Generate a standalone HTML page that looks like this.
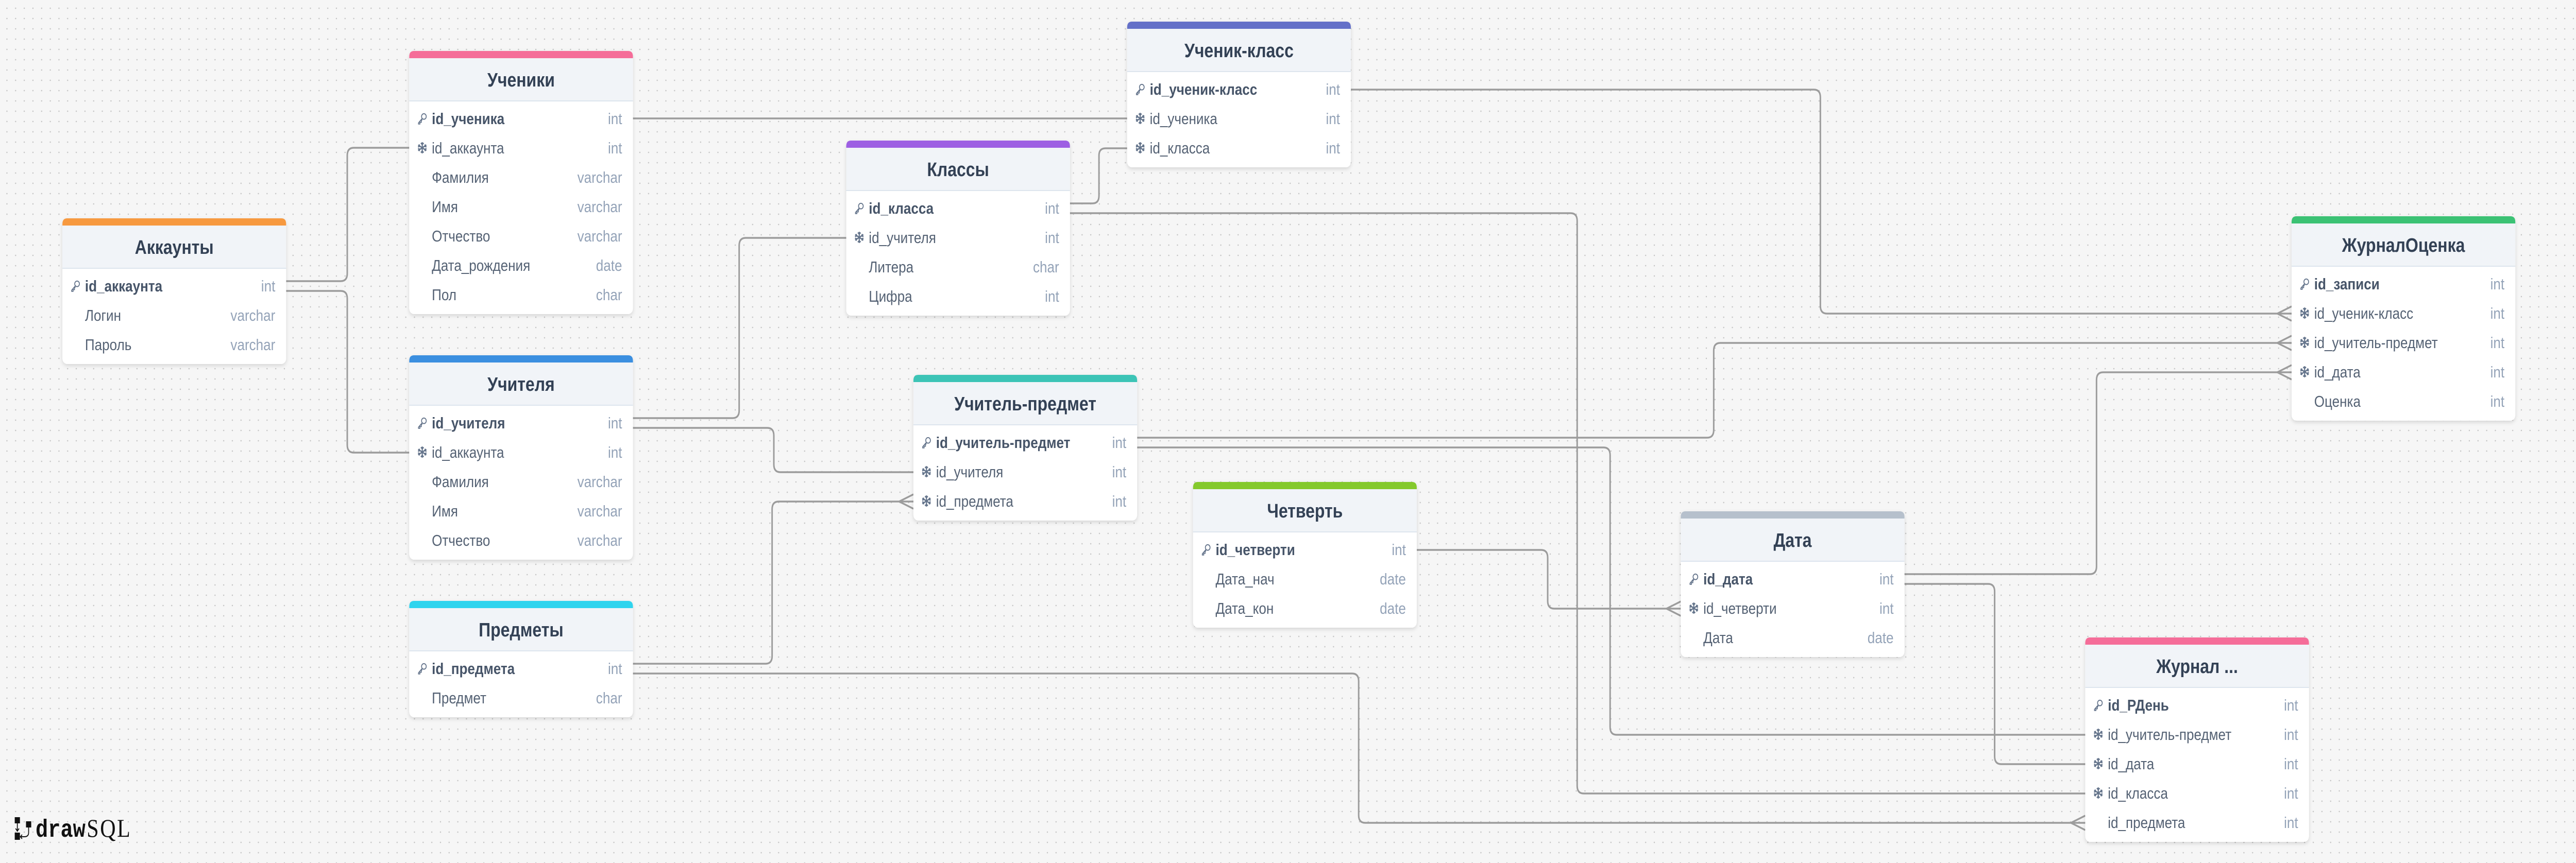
<!DOCTYPE html>
<html><head><meta charset="utf-8">
<meta name="viewport" content="width=5942, height=1676">
<style>
html,body{margin:0;padding:0;width:100%;height:100%;overflow:hidden;background:#f6f6f6}
svg.main{position:fixed;left:0;top:0;width:100vw;height:100vh;display:block}
.tt{font-family:"Liberation Sans","Noto Sans CJK SC",sans-serif;font-weight:bold;font-size:38px;fill:#334155;text-anchor:middle}
.n{font-family:"Liberation Sans","Noto Sans CJK SC",sans-serif;font-size:31px;fill:#556274}
.pk{font-weight:bold;fill:#475569}
.ty{font-family:"Liberation Sans","Noto Sans CJK SC",sans-serif;font-size:31px;fill:#94a3b8;text-anchor:end}
</style></head><body>
<svg class="main" viewBox="0 0 5942 1676" preserveAspectRatio="none" xmlns="http://www.w3.org/2000/svg">
<defs>
<pattern id="dots" x="6" y="6" width="20" height="20" patternUnits="userSpaceOnUse"><circle cx="10" cy="10" r="1.4" fill="#c4c4c4"/></pattern>
<filter id="sh" x="-5%" y="-5%" width="110%" height="115%"><feDropShadow dx="0" dy="3" stdDeviation="4" flood-color="#000" flood-opacity="0.14"/></filter>
<symbol id="key" viewBox="0 0 24 24"><g fill="none" stroke="#64748b" stroke-width="1.8"><circle cx="15.5" cy="8.5" r="5"/><path d="M12 12 L4 20 L4 22 L7 22 L7 19 L10 19 L10 16 L12 14"/></g></symbol>
<symbol id="fk" viewBox="0 0 24 24"><g stroke="#64748b" stroke-width="2.4" fill="none"><path d="M12 2V22M3.3 7L20.7 17M3.3 17L20.7 7"/><path d="M9 3.5L12 6L15 3.5M9 20.5L12 18L15 20.5M3 10.5L6.5 9.5L5.5 6M18.5 18L17.5 14.5L21 13.5M3 13.5L6.5 14.5L5.5 18M18.5 6L17.5 9.5L21 10.5"/></g></symbol>
<g id="frame3"><rect width="516" height="283" rx="11" fill="#fff" filter="url(#sh)"/><rect y="14" width="516" height="84" fill="#f1f4f8"/><path d="M0 97H516" stroke="#dde5ee" stroke-width="2"/></g>
</defs>
<rect width="5942" height="1676" fill="#f6f6f6"/>
<rect width="5942" height="1676" fill="url(#dots)"/>

<g fill="none" stroke="#9c9c9c" stroke-width="3.5">
<path d="M660 546 H786 Q801 546 801 531 V302 Q801 287 816 287 H944"/>
<path d="M660 565 H786 Q801 565 801 580 V864 Q801 879 816 879 H944"/>
<path d="M1460 230 H2600"/>
<path d="M3116 174 H4184 Q4199 174 4199 189 V594 Q4199 609 4214 609 H5286"/>
<path d="M2468 395 H2520 Q2535 395 2535 380 V302 Q2535 288 2550 288 H2600"/>
<path d="M2468 414 H3623 Q3638 414 3638 429 V1526 Q3638 1541 3653 1541 H4810"/>
<path d="M1460 812 H1690 Q1705 812 1705 797 V477 Q1705 462 1720 462 H1952"/>
<path d="M1460 831 H1770 Q1785 831 1785 846 V902 Q1785 917 1800 917 H2107"/>
<path d="M1460 1289 H1766 Q1781 1289 1781 1274 V989 Q1781 974 1796 974 H2107"/>
<path d="M1460 1308 H3119 Q3134 1308 3134 1323 V1583 Q3134 1598 3149 1598 H4810"/>
<path d="M2623 850 H3938 Q3953 850 3953 835 V681 Q3953 666 3968 666 H5286"/>
<path d="M2623 869 H3699 Q3714 869 3714 884 V1412 Q3714 1427 3729 1427 H4810"/>
<path d="M3268 1068 H3555 Q3570 1068 3570 1083 V1167 Q3570 1182 3585 1182 H3877"/>
<path d="M4393 1115 H4821 Q4836 1115 4836 1100 V738 Q4836 723 4851 723 H5286"/>
<path d="M4393 1134 H4586 Q4601 1134 4601 1149 V1469 Q4601 1484 4616 1484 H4810"/>
<path d="M5286 595 L5253 609 L5286 623 M5286 652 L5253 666 L5286 680 M5286 709 L5253 723 L5286 737"/>
<path d="M2107 960 L2074 974 L2107 988"/>
<path d="M4810 1584 L4777 1598 L4810 1612"/>
<path d="M3877 1168 L3844 1182 L3877 1196"/>
</g>

<!-- Аккаунты -->
<g transform="translate(144,424)">
<rect width="516" height="283" rx="11" fill="#fff" filter="url(#sh)"/><rect y="14" width="516" height="84" fill="#f1f4f8"/><path d="M0 97H516" stroke="#dde5ee" stroke-width="2"/>
<path d="M0 14V11Q0 0 11 0H505Q516 0 516 11V14Z" fill="#f7993f"/>
<text class="tt" x="258" y="69">Аккаунты</text>
<use href="#key" x="17" y="118" width="26" height="26"/><text class="n pk" x="52" y="142">id_аккаунта</text><text class="ty" x="491" y="142">int</text>
<text class="n" x="52" y="199">Логин</text><text class="ty" x="491" y="199">varchar</text>
<text class="n" x="52" y="256">Пароль</text><text class="ty" x="491" y="256">varchar</text>
</g>

<!-- Ученики -->
<g transform="translate(944,99)">
<rect width="516" height="511" rx="11" fill="#fff" filter="url(#sh)"/><rect y="14" width="516" height="84" fill="#f1f4f8"/><path d="M0 97H516" stroke="#dde5ee" stroke-width="2"/>
<path d="M0 14V11Q0 0 11 0H505Q516 0 516 11V14Z" fill="#f56d99"/>
<text class="tt" x="258" y="69">Ученики</text>
<use href="#key" x="17" y="118" width="26" height="26"/><text class="n pk" x="52" y="142">id_ученика</text><text class="ty" x="491" y="142">int</text>
<use href="#fk" x="17" y="175" width="26" height="26"/><text class="n" x="52" y="199">id_аккаунта</text><text class="ty" x="491" y="199">int</text>
<text class="n" x="52" y="256">Фамилия</text><text class="ty" x="491" y="256">varchar</text>
<text class="n" x="52" y="313">Имя</text><text class="ty" x="491" y="313">varchar</text>
<text class="n" x="52" y="370">Отчество</text><text class="ty" x="491" y="370">varchar</text>
<text class="n" x="52" y="427">Дата_рождения</text><text class="ty" x="491" y="427">date</text>
<text class="n" x="52" y="484">Пол</text><text class="ty" x="491" y="484">char</text>
</g>

<!-- Учителя -->
<g transform="translate(944,690)">
<rect width="516" height="397" rx="11" fill="#fff" filter="url(#sh)"/><rect y="14" width="516" height="84" fill="#f1f4f8"/><path d="M0 97H516" stroke="#dde5ee" stroke-width="2"/>
<path d="M0 14V11Q0 0 11 0H505Q516 0 516 11V14Z" fill="#3b8fe0"/>
<text class="tt" x="258" y="69">Учителя</text>
<use href="#key" x="17" y="118" width="26" height="26"/><text class="n pk" x="52" y="142">id_учителя</text><text class="ty" x="491" y="142">int</text>
<use href="#fk" x="17" y="175" width="26" height="26"/><text class="n" x="52" y="199">id_аккаунта</text><text class="ty" x="491" y="199">int</text>
<text class="n" x="52" y="256">Фамилия</text><text class="ty" x="491" y="256">varchar</text>
<text class="n" x="52" y="313">Имя</text><text class="ty" x="491" y="313">varchar</text>
<text class="n" x="52" y="370">Отчество</text><text class="ty" x="491" y="370">varchar</text>
</g>

<!-- Предметы -->
<g transform="translate(944,1167)">
<rect width="516" height="226" rx="11" fill="#fff" filter="url(#sh)"/><rect y="14" width="516" height="84" fill="#f1f4f8"/><path d="M0 97H516" stroke="#dde5ee" stroke-width="2"/>
<path d="M0 14V11Q0 0 11 0H505Q516 0 516 11V14Z" fill="#2fd4ee"/>
<text class="tt" x="258" y="69">Предметы</text>
<use href="#key" x="17" y="118" width="26" height="26"/><text class="n pk" x="52" y="142">id_предмета</text><text class="ty" x="491" y="142">int</text>
<text class="n" x="52" y="199">Предмет</text><text class="ty" x="491" y="199">char</text>
</g>

<!-- Классы -->
<g transform="translate(1952,273)">
<rect width="516" height="340" rx="11" fill="#fff" filter="url(#sh)"/><rect y="14" width="516" height="84" fill="#f1f4f8"/><path d="M0 97H516" stroke="#dde5ee" stroke-width="2"/>
<path d="M0 14V11Q0 0 11 0H505Q516 0 516 11V14Z" fill="#9d5fe3"/>
<text class="tt" x="258" y="69">Классы</text>
<use href="#key" x="17" y="118" width="26" height="26"/><text class="n pk" x="52" y="142">id_класса</text><text class="ty" x="491" y="142">int</text>
<use href="#fk" x="17" y="175" width="26" height="26"/><text class="n" x="52" y="199">id_учителя</text><text class="ty" x="491" y="199">int</text>
<text class="n" x="52" y="256">Литера</text><text class="ty" x="491" y="256">char</text>
<text class="n" x="52" y="313">Цифра</text><text class="ty" x="491" y="313">int</text>
</g>

<!-- Ученик-класс -->
<g transform="translate(2600,42)">
<rect width="516" height="283" rx="11" fill="#fff" filter="url(#sh)"/><rect y="14" width="516" height="84" fill="#f1f4f8"/><path d="M0 97H516" stroke="#dde5ee" stroke-width="2"/>
<path d="M0 14V11Q0 0 11 0H505Q516 0 516 11V14Z" fill="#6470c8"/>
<text class="tt" x="258" y="69">Ученик-класс</text>
<use href="#key" x="17" y="118" width="26" height="26"/><text class="n pk" x="52" y="142">id_ученик-класс</text><text class="ty" x="491" y="142">int</text>
<use href="#fk" x="17" y="175" width="26" height="26"/><text class="n" x="52" y="199">id_ученика</text><text class="ty" x="491" y="199">int</text>
<use href="#fk" x="17" y="232" width="26" height="26"/><text class="n" x="52" y="256">id_класса</text><text class="ty" x="491" y="256">int</text>
</g>

<!-- Учитель-предмет -->
<g transform="translate(2107,728)">
<rect width="516" height="283" rx="11" fill="#fff" filter="url(#sh)"/><rect y="14" width="516" height="84" fill="#f1f4f8"/><path d="M0 97H516" stroke="#dde5ee" stroke-width="2"/>
<path d="M0 14V11Q0 0 11 0H505Q516 0 516 11V14Z" fill="#3cc4b6"/>
<text class="tt" x="258" y="69">Учитель-предмет</text>
<use href="#key" x="17" y="118" width="26" height="26"/><text class="n pk" x="52" y="142">id_учитель-предмет</text><text class="ty" x="491" y="142">int</text>
<use href="#fk" x="17" y="175" width="26" height="26"/><text class="n" x="52" y="199">id_учителя</text><text class="ty" x="491" y="199">int</text>
<use href="#fk" x="17" y="232" width="26" height="26"/><text class="n" x="52" y="256">id_предмета</text><text class="ty" x="491" y="256">int</text>
</g>

<!-- Четверть -->
<g transform="translate(2752,936)">
<rect width="516" height="283" rx="11" fill="#fff" filter="url(#sh)"/><rect y="14" width="516" height="84" fill="#f1f4f8"/><path d="M0 97H516" stroke="#dde5ee" stroke-width="2"/>
<path d="M0 14V11Q0 0 11 0H505Q516 0 516 11V14Z" fill="#84c92c"/>
<text class="tt" x="258" y="69">Четверть</text>
<use href="#key" x="17" y="118" width="26" height="26"/><text class="n pk" x="52" y="142">id_четверти</text><text class="ty" x="491" y="142">int</text>
<text class="n" x="52" y="199">Дата_нач</text><text class="ty" x="491" y="199">date</text>
<text class="n" x="52" y="256">Дата_кон</text><text class="ty" x="491" y="256">date</text>
</g>

<!-- Дата -->
<g transform="translate(3877,993)">
<rect width="516" height="283" rx="11" fill="#fff" filter="url(#sh)"/><rect y="14" width="516" height="84" fill="#f1f4f8"/><path d="M0 97H516" stroke="#dde5ee" stroke-width="2"/>
<path d="M0 14V11Q0 0 11 0H505Q516 0 516 11V14Z" fill="#b6c0cc"/>
<text class="tt" x="258" y="69">Дата</text>
<use href="#key" x="17" y="118" width="26" height="26"/><text class="n pk" x="52" y="142">id_дата</text><text class="ty" x="491" y="142">int</text>
<use href="#fk" x="17" y="175" width="26" height="26"/><text class="n" x="52" y="199">id_четверти</text><text class="ty" x="491" y="199">int</text>
<text class="n" x="52" y="256">Дата</text><text class="ty" x="491" y="256">date</text>
</g>

<!-- ЖурналОценка -->
<g transform="translate(5286,420)">
<rect width="516" height="397" rx="11" fill="#fff" filter="url(#sh)"/><rect y="14" width="516" height="84" fill="#f1f4f8"/><path d="M0 97H516" stroke="#dde5ee" stroke-width="2"/>
<path d="M0 14V11Q0 0 11 0H505Q516 0 516 11V14Z" fill="#3bc274"/>
<text class="tt" x="258" y="69">ЖурналОценка</text>
<use href="#key" x="17" y="118" width="26" height="26"/><text class="n pk" x="52" y="142">id_записи</text><text class="ty" x="491" y="142">int</text>
<use href="#fk" x="17" y="175" width="26" height="26"/><text class="n" x="52" y="199">id_ученик-класс</text><text class="ty" x="491" y="199">int</text>
<use href="#fk" x="17" y="232" width="26" height="26"/><text class="n" x="52" y="256">id_учитель-предмет</text><text class="ty" x="491" y="256">int</text>
<use href="#fk" x="17" y="289" width="26" height="26"/><text class="n" x="52" y="313">id_дата</text><text class="ty" x="491" y="313">int</text>
<text class="n" x="52" y="370">Оценка</text><text class="ty" x="491" y="370">int</text>
</g>

<!-- Журнал -->
<g transform="translate(4810,1238)">
<rect width="516" height="397" rx="11" fill="#fff" filter="url(#sh)"/><rect y="14" width="516" height="84" fill="#f1f4f8"/><path d="M0 97H516" stroke="#dde5ee" stroke-width="2"/>
<path d="M0 14V11Q0 0 11 0H505Q516 0 516 11V14Z" fill="#f56d99"/>
<text class="tt" x="258" y="69">Журнал ...</text>
<use href="#key" x="17" y="118" width="26" height="26"/><text class="n pk" x="52" y="142">id_РДень</text><text class="ty" x="491" y="142">int</text>
<use href="#fk" x="17" y="175" width="26" height="26"/><text class="n" x="52" y="199">id_учитель-предмет</text><text class="ty" x="491" y="199">int</text>
<use href="#fk" x="17" y="232" width="26" height="26"/><text class="n" x="52" y="256">id_дата</text><text class="ty" x="491" y="256">int</text>
<use href="#fk" x="17" y="289" width="26" height="26"/><text class="n" x="52" y="313">id_класса</text><text class="ty" x="491" y="313">int</text>
<text class="n" x="52" y="370">id_предмета</text><text class="ty" x="491" y="370">int</text>
</g>

<!-- logo -->
<g transform="translate(32,1587)">
<rect x="2" y="0" width="12" height="12" fill="#111"/><rect x="2" y="30" width="12" height="14" fill="#111"/><rect x="28" y="8" width="12" height="12" fill="#111"/>
<path d="M8 12V26M4 22L8 27L12 22M34 20V30Q34 38 24 38H16M19 34L15 38L19 42" stroke="#111" stroke-width="2" fill="none"/>
<text x="50" y="38" style="font-family:'Liberation Mono',monospace;font-size:48px;font-weight:bold;fill:#111">draw</text>
<text x="168" y="38" style="font-family:'Liberation Serif',serif;font-size:50px;fill:#111;letter-spacing:3px">SQL</text>
</g>
</svg>
</body></html>
